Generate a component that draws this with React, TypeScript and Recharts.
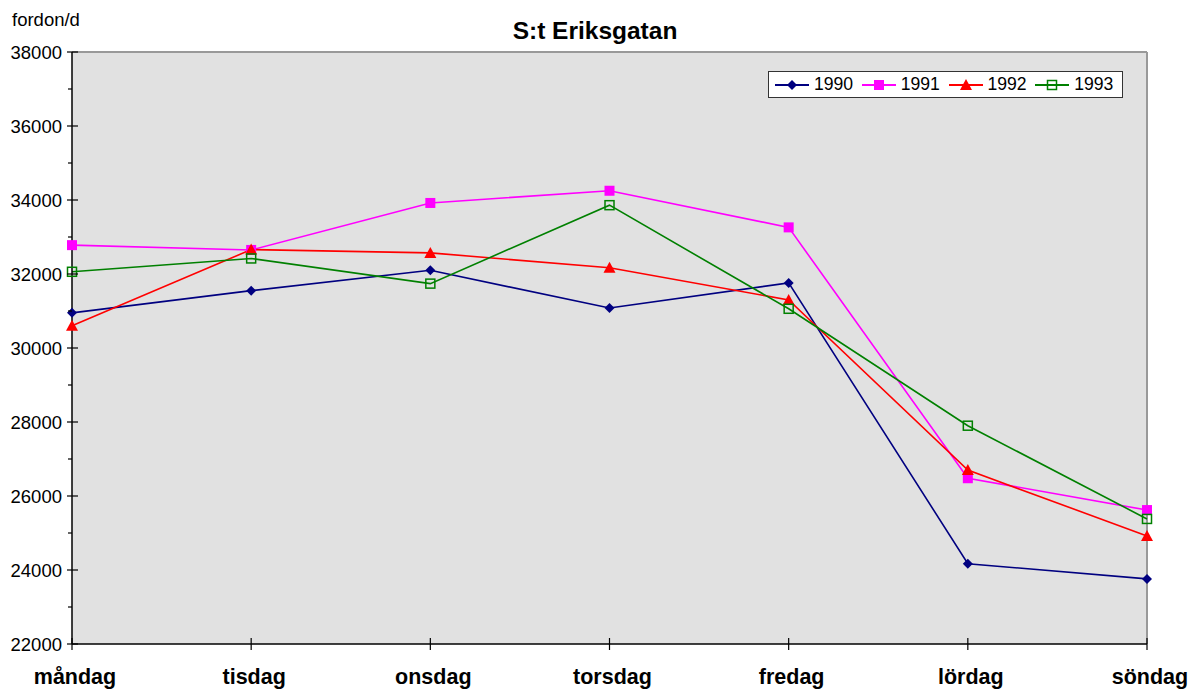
import { LineChart, Line, XAxis, YAxis, CartesianGrid, ReferenceLine } from 'recharts';

const days = ['måndag', 'tisdag', 'onsdag', 'torsdag', 'fredag', 'lördag', 'söndag'];
const y1990 = [30950, 31550, 32100, 31080, 31760, 24170, 23760];
const y1991 = [32780, 32650, 33920, 34250, 33260, 26480, 25620];
const y1992 = [30600, 32660, 32570, 32170, 31300, 26700, 24920];
const y1993 = [32060, 32420, 31740, 33860, 31060, 27900, 25380];
const yTicks = [22000, 23000, 24000, 25000, 26000, 27000, 28000, 29000, 30000, 31000, 32000, 33000, 34000, 35000, 36000, 37000, 38000];

const data = days.map((d, i) => ({ day: d, a: y1990[i], b: y1991[i], c: y1992[i], d: y1993[i] }));

const series = [
  { key: 'a', name: '1990', color: '#000080', shape: 'diamond' },
  { key: 'b', name: '1991', color: '#ff00ff', shape: 'square' },
  { key: 'c', name: '1992', color: '#ff0000', shape: 'triangle' },
  { key: 'd', name: '1993', color: '#008000', shape: 'open' },
];

const font = 'Liberation Sans, Arial, sans-serif';

function Marker({ cx, cy, shape, color }: any) {
  if (cx == null || cy == null) return null;
  if (shape === 'diamond') {
    return <path d={`M${cx},${cy - 5} L${cx + 5},${cy} L${cx},${cy + 5} L${cx - 5},${cy} Z`} fill={color} />;
  }
  if (shape === 'square') {
    return <rect x={cx - 5} y={cy - 5} width={10} height={10} fill={color} />;
  }
  if (shape === 'triangle') {
    return <path d={`M${cx},${cy - 6} L${cx + 6},${cy + 5} L${cx - 6},${cy + 5} Z`} fill={color} />;
  }
  return <rect x={cx - 4.5} y={cy - 4.5} width={9} height={9} fill="none" stroke={color} strokeWidth={1.5} />;
}

function YTick({ x, y, payload }: any) {
  const major = payload.value % 2000 === 0;
  return (
    <g>
      <line x1={major ? x - 5 : x - 4} x2={major ? x + 6 : x} y1={y} y2={y} stroke="#000" strokeWidth={1.2} />
      {major && (
        <text x={x - 10} y={y} dy={6.5} textAnchor="end" fontSize={18.5} fill="#000" fontFamily={font}>
          {payload.value}
        </text>
      )}
    </g>
  );
}

function XTick({ x, y, payload }: any) {
  return (
    <g>
      <line x1={x} x2={x} y1={y - 6} y2={y + 6} stroke="#000" strokeWidth={1.2} />
      <text x={x + 3} y={y + 40} textAnchor="middle" fontSize={21.5} fontWeight="bold" fill="#000" fontFamily={font}>
        {payload.value}
      </text>
    </g>
  );
}

function LegendBox() {
  return (
    <div
      style={{
        position: 'absolute',
        left: 768,
        top: 71,
        width: 355,
        height: 27,
        display: 'flex',
        alignItems: 'center',
        background: '#fff',
        border: '1px solid #333',
        paddingLeft: 6,
        fontFamily: font,
        fontSize: 17.6,
        color: '#000',
        boxSizing: 'border-box',
      }}
    >
      {series.map((s) => (
        <div key={s.key} style={{ display: 'flex', alignItems: 'center', width: 87 }}>
          <svg width={34} height={16}>
            <line x1={0} x2={34} y1={8} y2={8} stroke={s.color} strokeWidth={2} />
            <Marker cx={17} cy={8} shape={s.shape} color={s.color} />
          </svg>
          <span style={{ marginLeft: 5 }}>{s.name}</span>
        </div>
      ))}
    </div>
  );
}

export default function App() {
  return (
    <div style={{ position: 'absolute', left: 0, top: 0, width: 1200, height: 691, background: '#fff' }}>
      <div style={{ position: 'absolute', left: 0, width: 1190, top: 17, lineHeight: '28px', textAlign: 'center', fontFamily: font, fontWeight: 'bold', fontSize: 24.5 }}>
        S:t Eriksgatan
      </div>
      <div style={{ position: 'absolute', left: 12, top: 9, lineHeight: '22px', fontFamily: font, fontSize: 18.5 }}>fordon/d</div>
      <LineChart width={1200} height={691} data={data} margin={{ top: 52, right: 53, bottom: 7, left: 12 }}>
        <CartesianGrid fill="#e1e1e1" horizontal={false} vertical={false} />
        <ReferenceLine y={38000} stroke="#999" strokeWidth={2} />
        <ReferenceLine x="söndag" stroke="#999" strokeWidth={2} />
        <XAxis
          dataKey="day"
          height={40}
          tickSize={0}
          tickMargin={0}
          tickLine={false}
          axisLine={{ stroke: '#000', strokeWidth: 1.5 }}
          tick={<XTick />}
          interval={0}
        />
        <YAxis
          width={60}
          domain={[22000, 38000]}
          ticks={yTicks}
          interval={0}
          tickSize={0}
          tickMargin={0}
          tickLine={false}
          axisLine={{ stroke: '#000', strokeWidth: 1.5 }}
          tick={<YTick />}
        />
        {series.map((s) => (
          <Line
            key={s.key}
            dataKey={s.key}
            name={s.name}
            type="linear"
            stroke={s.color}
            strokeWidth={1.6}
            dot={(p: any) => <Marker key={`${s.key}-${p.index}`} cx={p.cx} cy={p.cy} shape={s.shape} color={s.color} />}
            activeDot={false}
            isAnimationActive={false}
          />
        ))}
      </LineChart>
      <LegendBox />
    </div>
  );
}
